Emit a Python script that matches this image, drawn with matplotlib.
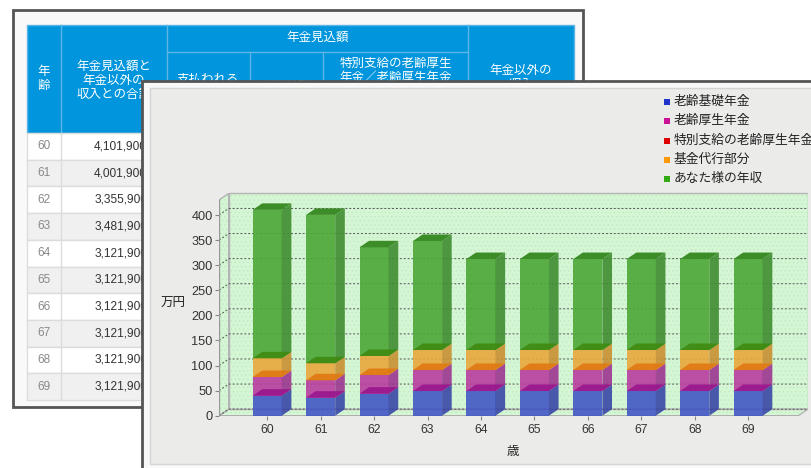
import matplotlib
matplotlib.use("Agg")
import matplotlib.pyplot as plt
from matplotlib.patches import Rectangle, Polygon

plt.rcParams['font.family'] = ['Liberation Sans', 'Noto Sans CJK JP']
plt.rcParams['hatch.linewidth'] = 0.4

# --- data ---
ages = [60, 61, 62, 63, 64, 65, 66, 67, 68, 69]
age_labels = [str(a) for a in ages]
totals_yen = [4101900, 4001900, 3355900, 3481900, 3121900,
              3121900, 3121900, 3121900, 3121900, 3121900]

series_names = ['老齢基礎年金', '老齢厚生年金', '特別支給の老齢厚生年金', '基金代行部分', 'あなた様の年収']
kiso = [39.9, 35.9, 43.9, 49.2, 49.2, 49.2, 49.2, 49.2, 49.2, 49.2]
kosei = [37.2, 34.6, 37.2, 41.9, 41.9, 41.9, 41.9, 41.9, 41.9, 41.9]
tokubetsu = [0, 0, 0, 0, 0, 0, 0, 0, 0, 0]
kikin = [37.2, 33.9, 37.9, 39.8, 39.8, 39.8, 39.8, 39.8, 39.8, 39.8]
nenshu = [295.9, 295.8, 216.6, 217.3, 181.3, 181.3, 181.3, 181.3, 181.3, 181.3]
series = [kiso, kosei, tokubetsu, kikin, nenshu]
y_ticks = [0, 50, 100, 150, 200, 250, 300, 350, 400]

# --- style ---
legend_colors = ['#2233cc', '#cc1199', '#dd0000', '#ff9900', '#33aa11']
front_colors = ['#4357c4', '#b93d9f', '#dd2020', '#e9a83c', '#4ca737']
side_colors = ['#3a47a6', '#9c3590', '#b01818', '#c99032', '#3f8d30']
band_colors = ['#2d3aa0', '#99168c', '#a00000', '#e07812', '#3f8a10']
top_color = '#3c8c28'
DX, DY = 0.18, 13
BAR_W = 0.545
X0, X1 = -0.9, 10.12
WALL_TOP = 430

fig = plt.figure(figsize=(8.12, 4.68), dpi=100)
fig.patch.set_facecolor('white')

# background: table screenshot + chart panel (pixel coordinates)
bg = fig.add_axes([0, 0, 1, 1], zorder=0)
bg.set_xlim(0, 812)
bg.set_ylim(468, 0)
bg.axis('off')

bg.add_patch(Rectangle((13, 10), 570, 397, facecolor='#f9f9f9', edgecolor='#555555', lw=2, zorder=1))
hdr_blue = '#0095dc'
line_blue = '#5db5e6'
bg.add_patch(Rectangle((27, 25), 547, 108, facecolor=hdr_blue, edgecolor=line_blue, lw=1, zorder=2))
for x in [61, 167, 468]:
    bg.plot([x, x], [25, 133], color=line_blue, lw=1, zorder=3)
for x in [250, 323]:
    bg.plot([x, x], [52, 133], color=line_blue, lw=1, zorder=3)
bg.plot([167, 468], [52, 52], color=line_blue, lw=1, zorder=3)

hkw = dict(color='white', fontsize=9, ha='center', va='center', zorder=4, linespacing=1.2)
bg.text(44, 79, '年\n齢', **hkw)
bg.text(114, 81, '年金見込額と\n年金以外の\n収入との合計', **hkw)
bg.text(318, 38, '年金見込額', **hkw)
bg.text(208, 87, '支払われる\n年金額', **hkw)
bg.text(287, 94, '老齢基礎\n年金', **hkw)
bg.text(396, 71, '特別支給の老齢厚生\n年金／老齢厚生年金', **hkw)
bg.text(521, 78, '年金以外の\n収入', **hkw)

row_h = 26.7
for i, (age, tot) in enumerate(zip(ages, totals_yen)):
    y = 133 + i * row_h
    bg.add_patch(Rectangle((27, y), 547, row_h, facecolor='white' if i % 2 == 0 else '#f0f0f0',
                           edgecolor='#dcdcdc', lw=1, zorder=2))
    bg.text(44, y + row_h / 2, str(age), color='#888888', fontsize=8.5, ha='center', va='center', zorder=4)
    bg.text(147, y + row_h / 2, f'{tot:,}', color='#333333', fontsize=8.6, ha='right', va='center', zorder=4)
bg.plot([61, 61], [133, 133 + 10 * row_h], color='#dcdcdc', lw=1, zorder=3)

# chart panel
bg.add_patch(Rectangle((142, 81), 700, 420, facecolor='#f8f8f8', edgecolor='#555555', lw=2, zorder=10))
bg.add_patch(Rectangle((150, 88), 690, 376, facecolor='#ebecea', edgecolor='#d4d4d4', lw=1, zorder=11))

# legend
for i, (name, c) in enumerate(zip(series_names, legend_colors)):
    y = 102 + i * 19.3
    bg.add_patch(Rectangle((664, y - 3), 6, 6, facecolor=c, edgecolor='none', zorder=12))
    bg.text(674, y, name, fontsize=9.2, color='#222222', ha='left', va='center', zorder=12)

# --- chart ---
L, B = 219.1 / 812, 52.3 / 468
W, H = (808 - 219.1) / 812, 446 * 0.50175 / 468
ax = fig.add_axes([L, B, W, H], zorder=3)
ax.set_xlim(X0, X1)
ax.set_ylim(0, 446)
ax.patch.set_visible(False)
for s in ax.spines.values():
    s.set_visible(False)

wall_fc = '#d4f6d4'
dots = '#bde9bd'
back = [(X0 + DX, DY), (X1, DY), (X1, WALL_TOP + DY), (X0 + DX, WALL_TOP + DY)]
left = [(X0, 0), (X0 + DX, DY), (X0 + DX, WALL_TOP + DY), (X0, WALL_TOP)]
floor = [(X0, 0), (X1 - DX, 0), (X1, DY), (X0 + DX, DY)]
for poly in [back, left, floor]:
    ax.add_patch(Polygon(poly, closed=True, facecolor=wall_fc, edgecolor=dots, hatch='....', lw=0, zorder=1))
    ax.add_patch(Polygon(poly, closed=True, facecolor='none', edgecolor='#b4b4b4', lw=1, zorder=2))

for v in y_ticks:
    ax.plot([X0, X0 + DX, X1], [v, v + DY, v + DY], color='#555555', lw=0.7,
            linestyle=(0, (2, 2)), zorder=2.5)
ax.plot([X0, X0], [0, WALL_TOP], color='#999999', lw=1, zorder=2.6)
ax.plot([X0, X1 - DX], [0, 0], color='#999999', lw=1, zorder=2.6)

for i in range(len(ages)):
    x0, x1 = i - BAR_W / 2, i + BAR_W / 2
    base = 0
    for k, vals in enumerate(series):
        h = vals[i]
        if h <= 0:
            continue
        b, t = base, base + h
        ax.add_patch(Rectangle((x0, b), BAR_W, h, facecolor=front_colors[k], edgecolor='none',
                               alpha=0.9, zorder=3))
        ax.add_patch(Polygon([(x1, b), (x1 + DX, b + DY), (x1 + DX, t + DY), (x1, t)], closed=True,
                             facecolor=side_colors[k], edgecolor='none', alpha=0.9, zorder=3))
        if b > 0:
            ax.add_patch(Polygon([(x0, b), (x1, b), (x1 + DX, b + DY), (x0 + DX, b + DY)], closed=True,
                                 facecolor=band_colors[k], edgecolor='none', alpha=0.9, zorder=3))
        base = t
    ax.add_patch(Polygon([(x0, base), (x1, base), (x1 + DX, base + DY), (x0 + DX, base + DY)], closed=True,
                         facecolor=top_color, edgecolor='none', zorder=3))

ax.set_xticks(range(len(ages)))
ax.set_xticklabels(age_labels)
ax.set_yticks(y_ticks)
ax.tick_params(axis='x', length=3, pad=3, color='#888888', labelsize=8.8, labelcolor='#333333')
ax.tick_params(axis='y', length=3, pad=1.5, color='#888888', labelsize=9.2, labelcolor='#333333')

ax.set_xlabel('歳', fontsize=9, color='#222222', va='center')
ax.xaxis.set_label_coords(0.499, -0.163)
ax.set_ylabel('万円', fontsize=9, color='#222222', rotation=0, ha='center', va='center')
ax.yaxis.set_label_coords(-0.078, 0.5)

fig.savefig('out.png', dpi=100)
